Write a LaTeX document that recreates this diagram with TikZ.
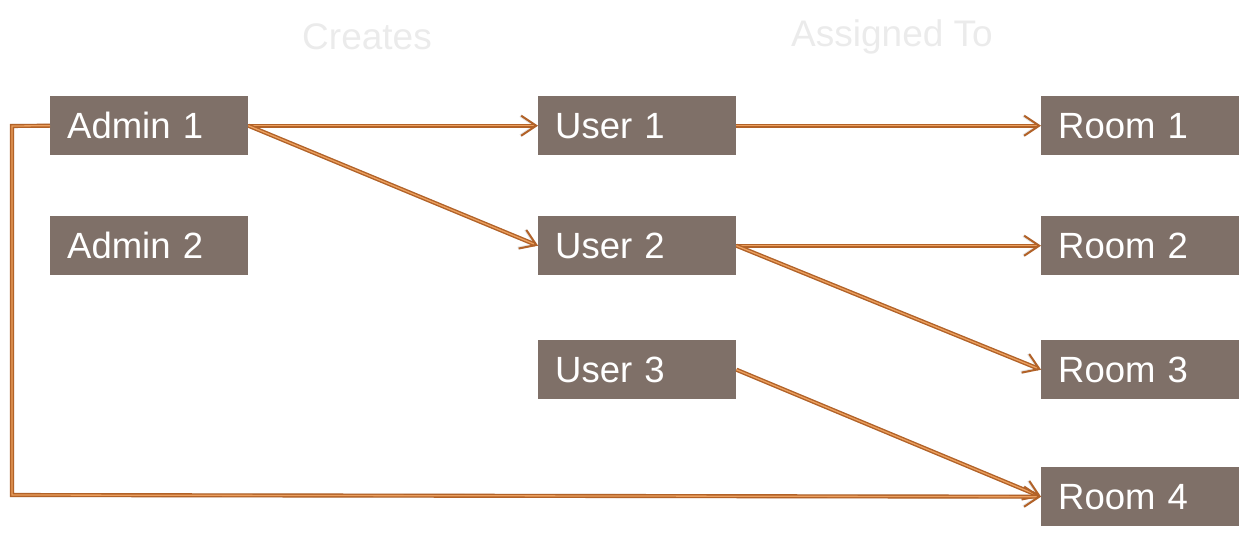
\documentclass[tikz,border=0pt]{standalone}
\usepackage{fontspec}
\setmainfont{Liberation Sans}
\usetikzlibrary{arrows.meta}
\definecolor{boxc}{RGB}{127,112,104}
\definecolor{arrd}{RGB}{178,98,40}
\definecolor{arrl}{RGB}{236,160,95}
\begin{document}
\begin{tikzpicture}[x=1pt,y=-1pt,
  ent/.style={fill=boxc,text=white,minimum width=198pt,minimum height=59pt,inner sep=0pt,
    font=\fontsize{36.5}{38}\selectfont,text width=164pt,align=left,anchor=north west},
  hdr/.style={font=\fontsize{37}{39}\selectfont,text=black!8},
  conn/.style={draw=arrd,line width=1.4pt,double=arrl,double distance=1.3pt,
    -{Straight Barb[length=15pt,width=20pt,line width=2pt]}},
  shad/.style={draw=black!35,line width=4pt,opacity=0.3,
    -{Straight Barb[length=15pt,width=20pt,line width=3pt]}}
]
\useasboundingbox (0,0) rectangle (1241,534);
\node[ent] (a1) at (50,96) {Admin 1};
\node[ent] (a2) at (50,216) {Admin 2};
\node[ent] (u1) at (538,96) {User 1};
\node[ent] (u2) at (538,216) {User 2};
\node[ent] (u3) at (538,340) {User 3};
\node[ent] (r1) at (1041,96) {Room 1};
\node[ent] (r2) at (1041,216) {Room 2};
\node[ent] (r3) at (1041,340) {Room 3};
\node[ent] (r4) at (1041,467) {Room 4};
\node[hdr] (h1) at (367,37) {Creates};
\node[hdr] (h2) at (892,37) {Assigned To};
\coordinate (c1) at (12,126);
\coordinate (c2) at (12,495);
% shadows
\begin{scope}[shift={(2,5)}]
\draw[shad] (a1.east) -- (u1.west);
\draw[shad] (a1.east) -- (u2.west);
\draw[shad] (u1.east) -- (r1.west);
\draw[shad] (u2.east) -- (r2.west);
\draw[shad] (u2.east) -- (r3.west);
\draw[shad] (u3.east) -- (r4.west);
\draw[shad] (a1.west) -- (c1) -- (c2) -- (r4.west);
\end{scope}
\draw[conn] (a1.east) -- (u1.west);
\draw[conn] (a1.east) -- (u2.west);
\draw[conn] (u1.east) -- (r1.west);
\draw[conn] (u2.east) -- (r2.west);
\draw[conn] (u2.east) -- (r3.west);
\draw[conn] (u3.east) -- (r4.west);
\draw[conn] (a1.west) -- (c1) -- (c2) -- (r4.west);
\end{tikzpicture}
\end{document}
